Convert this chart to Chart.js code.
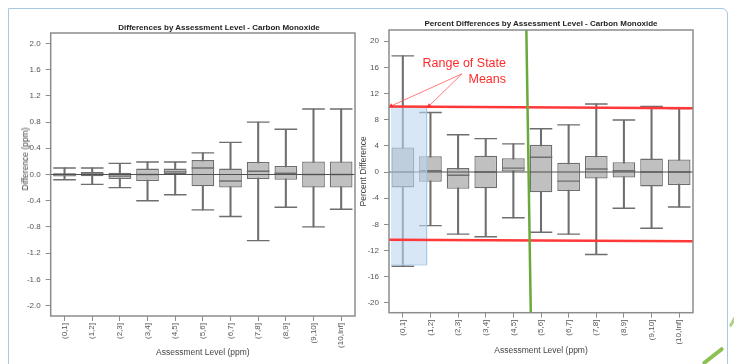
<!DOCTYPE html>
<html lang="en">
<head>
<meta charset="UTF-8">
<title>Differences by Assessment Level - Carbon Monoxide</title>
<script src="https://cdn.jsdelivr.net/npm/chart.js"></script>
<style>
    body { margin: 0; background: #fff; }
    #wrap {
        position: relative;
        width: 734px;
        height: 364px;
        overflow: hidden;
        font-family: 'Liberation Sans', Arial, sans-serif;
    }
    /* light blue slide frame */
    .frame {
        position: absolute;
        left: 8px; top: 8px;
        width: 718px; height: 380px;
        border: 1.5px solid #a9c6e4;
        border-radius: 0 6px 0 0;
    }
    canvas { position: absolute; top: 0; }
    #cLeft { left: 0; }
    #cRight { left: 352px; }
    .title {
        position: absolute;
        transform: translate(-50%, -50%);
        font-weight: bold;
        font-size: 8px;
        color: #222;
        white-space: nowrap;
    }
    .ytitle {
        position: absolute;
        transform: translate(-50%, -50%) rotate(-90deg);
        font-size: 8.5px;
        color: #444;
        white-space: nowrap;
    }
    .note {
        position: absolute;
        right: 228px; top: 55px;
        color: #ff2b2b;
        font-size: 12.5px;
        line-height: 16px;
        text-align: right;
    }
    .swoosh { position: absolute; background: #8cc152; border-radius: 2px; }
</style>
</head>
<body>
<div id="wrap">
    <div class="frame"></div>
    <canvas id="cLeft" width="362" height="364"></canvas>
    <canvas id="cRight" width="382" height="364"></canvas>
    <div class="title" style="left:219px; top:27px;">Differences by Assessment Level - Carbon Monoxide</div>
    <div class="title" style="left:541px; top:23px;">Percent Differences by Assessment Level - Carbon Monoxide</div>
    <div class="ytitle" style="left:25px; top:159px;">Difference (ppm)</div>
    <div class="note">Range of State<br>Means</div>
    <div class="swoosh" style="left:700px; top:354px; width:26px; height:4px; transform:rotate(-38deg);"></div>
    <div class="swoosh" style="left:726px; top:318px; width:16px; height:3px; transform:rotate(-60deg); opacity:0.7;"></div>
</div>

<script>
    // categories
    const categories = ['(0,1]', '(1,2]', '(2,3]', '(3,4]', '(4,5]', '(5,6]', '(6,7]', '(7,8]', '(8,9]', '(9,10]', '(10,Inf]'];

    // tick labels
    const diffTicks = [-2.0, -1.6, -1.2, -0.8, -0.4, 0.0, 0.4, 0.8, 1.2, 1.6, 2.0];
    const pctTicks = [-20, -16, -12, -8, -4, 0, 4, 8, 12, 16, 20];

    // differences (ppm): whisker low, q1, median, q3, whisker high
    const diffMin = [-0.08, -0.15, -0.20, -0.40, -0.31, -0.54, -0.64, -1.01, -0.50, -0.80, -0.53];
    const diffQ1  = [-0.03, -0.025, -0.07, -0.10, 0.00, -0.18, -0.20, -0.07, -0.08, -0.20, -0.20];
    const diffMed = [0.00, 0.01, -0.025, 0.00, 0.04, 0.10, -0.10, 0.05, 0.02, 0.00, 0.00];
    const diffQ3  = [0.02, 0.04, 0.025, 0.09, 0.09, 0.22, 0.09, 0.19, 0.13, 0.20, 0.20];
    const diffMax = [0.10, 0.10, 0.17, 0.19, 0.19, 0.33, 0.49, 0.80, 0.69, 1.00, 1.00];

    // percent differences
    const pctMin = [-14.4, -8.2, -9.5, -9.9, -7.0, -9.2, -9.5, -12.6, -5.55, -8.6, -5.35];
    const pctQ1  = [-2.35, -1.5, -2.55, -2.5, 0.0, -3.1, -2.9, -1.0, -0.85, -2.2, -2.0];
    const pctMed = [0.0, 0.2, -0.5, 0.0, 0.6, 2.25, -1.4, 0.45, 0.2, 0.0, 0.0];
    const pctQ3  = [3.76, 2.4, 0.6, 2.5, 2.1, 4.15, 1.4, 2.45, 1.5, 2.05, 1.9];
    const pctMax = [17.75, 9.1, 5.7, 5.1, 4.3, 6.6, 7.2, 10.4, 7.95, 10.0, 9.7];

    // range of state means (value at left end, right end)
    const stateMeanHigh = [10.0, 9.75];
    const stateMeanLow = [-10.35, -10.6];
    // shaded level band (category index units, percent units)
    const bandX = [-0.43, 0.86];
    const bandY = [-14.2, 10.0];
    // green divider (category index at top, at bottom)
    const dividerX = [4.47, 4.63];
    // annotation arrows: start (near text) and the two tips
    const arrowFrom = [2.14, 15.0];
    const arrowTips = [[-0.42, 10.1], [0.95, 10.1]];

    const STROKE = '#6e6e6e';
    const FILL = '#c0c0c0';

    Chart.defaults.font.family = "'Liberation Sans', Arial, sans-serif";
    Chart.defaults.font.size = 8;
    Chart.defaults.color = '#555';

    const frame = {
        id: 'frame',
        afterDatasetsDraw(chart) {
            const { ctx, chartArea: a } = chart;
            ctx.save();
            ctx.strokeStyle = '#8c8c8c';
            ctx.lineWidth = 1.5;
            ctx.strokeRect(a.left, a.top, a.right - a.left, a.bottom - a.top);
            ctx.restore();
        }
    };

    function boxSets(mn, q1, md, q3, mx) {
        const mark = (data) => ({
            type: 'line', data: data, showLine: false,
            pointStyle: 'line', pointRadius: 11.3,
            pointBorderColor: STROKE, pointBorderWidth: 1.4, order: 7
        });
        return [
            { type: 'bar', data: mn.map((v, i) => [v, mx[i]]), backgroundColor: STROKE,
              barThickness: 1.4, grouped: false, order: 9 },
            { type: 'bar', data: q1.map((v, i) => [v, q3[i]]), backgroundColor: FILL,
              borderColor: STROKE, borderWidth: 1.3, borderSkipped: false,
              barPercentage: 0.82, categoryPercentage: 1, grouped: false, order: 8 },
            mark(md), mark(mx), mark(mn)
        ];
    }

    function seg(xs, ys, color, width, order, extra) {
        return Object.assign({
            type: 'line', xAxisID: 'xl',
            data: xs.map((x, i) => ({ x: x, y: ys[i] })),
            borderColor: color, borderWidth: width, pointRadius: 0, fill: false, order: order
        }, extra || {});
    }

    function makeOptions(ticks, yMin, yMax, yTitle, dec, sz) {
        return {
            responsive: false,
            animation: false,
            events: [],
            layout: { padding: sz.pad, autoPadding: false },
            plugins: { legend: { display: false }, tooltip: { enabled: false } },
            scales: {
                x: {
                    type: 'category',
                    grid: { drawOnChartArea: false, offset: false, tickLength: 5, color: '#8c8c8c' },
                    border: { display: false },
                    ticks: { minRotation: 90, maxRotation: 90, padding: 2, color: '#555', autoSkip: false },
                    title: { display: true, text: 'Assessment Level (ppm)', color: '#444',
                             font: { size: 8.5 }, padding: { top: 0, bottom: sz.xTitlePad } },
                    afterFit: s => { s.height = sz.xHeight; }
                },
                xl: { type: 'linear', display: false, offset: false, grid: { offset: false },
                      min: -0.5, max: 10.5 },
                y: {
                    min: yMin, max: yMax,
                    grid: { drawOnChartArea: false, tickLength: 5, color: '#8c8c8c' },
                    border: { display: false },
                    ticks: { padding: 5, color: '#555', callback: v => v.toFixed(dec) },
                    afterBuildTicks: s => { s.ticks = ticks.map(v => ({ value: v })); },
                    title: { display: !!yTitle, text: yTitle, color: '#444',
                             font: { size: 8.5 }, padding: { top: sz.yTitlePad, bottom: 0 } },
                    afterFit: s => { s.width = sz.yWidth; }
                }
            }
        };
    }

    new Chart(document.getElementById('cLeft'), {
        type: 'bar',
        data: {
            labels: categories,
            datasets: [
                ...boxSets(diffMin, diffQ1, diffMed, diffQ3, diffMax),
                seg([-0.5, 10.5], [0, 0], '#505050', 1, 3)
            ]
        },
        options: makeOptions(diffTicks, -2.16, 2.16, '', 1,
            { pad: { left: 14, right: 7, top: 33, bottom: 0 }, yWidth: 36.7, xHeight: 48,
              xTitlePad: 5.9, yTitlePad: 5.9 }),
        plugins: [frame]
    });

    const arrowPts = { pointRadius: [0, 2.6], pointStyle: 'triangle',
                       pointBackgroundColor: '#ff2b2b', pointBorderColor: '#ff2b2b', pointBorderWidth: 0 };

    new Chart(document.getElementById('cRight'), {
        type: 'bar',
        data: {
            labels: categories,
            datasets: [
                ...boxSets(pctMin, pctQ1, pctMed, pctQ3, pctMax),
                seg([-0.5, 10.5], [0, 0], '#505050', 1, 3),
                seg(bandX, [bandY[1], bandY[1]], 'rgba(160,195,228,0.9)', 1, 2,
                    { fill: { value: bandY[0] }, backgroundColor: 'rgba(189,215,238,0.6)' }),
                seg([bandX[1], bandX[1], bandX[0]], [bandY[1], bandY[0], bandY[0]], 'rgba(160,195,228,0.9)', 1, 2),
                seg([-0.5, 10.5], stateMeanHigh, '#ff3838', 2.5, 1),
                seg([-0.5, 10.5], stateMeanLow, '#ff3838', 2.5, 1),
                seg(dividerX, [21.7, -21.5], '#6aaa3a', 2.5, 0),
                seg([arrowFrom[0], arrowTips[0][0]], [arrowFrom[1], arrowTips[0][1]], 'rgba(255,80,80,0.75)', 1, 0, arrowPts),
                seg([arrowFrom[0], arrowTips[1][0]], [arrowFrom[1], arrowTips[1][1]], 'rgba(255,80,80,0.75)', 1, 0, arrowPts)
            ]
        },
        options: makeOptions(pctTicks, -21.5, 21.7, 'Percent Difference', 0,
            { pad: { left: 0, right: 41, top: 30, bottom: 0 }, yWidth: 37, xHeight: 51.3,
              xTitlePad: 8.2, yTitlePad: 6.2 }),
        plugins: [frame]
    });
</script>
</body>
</html>
